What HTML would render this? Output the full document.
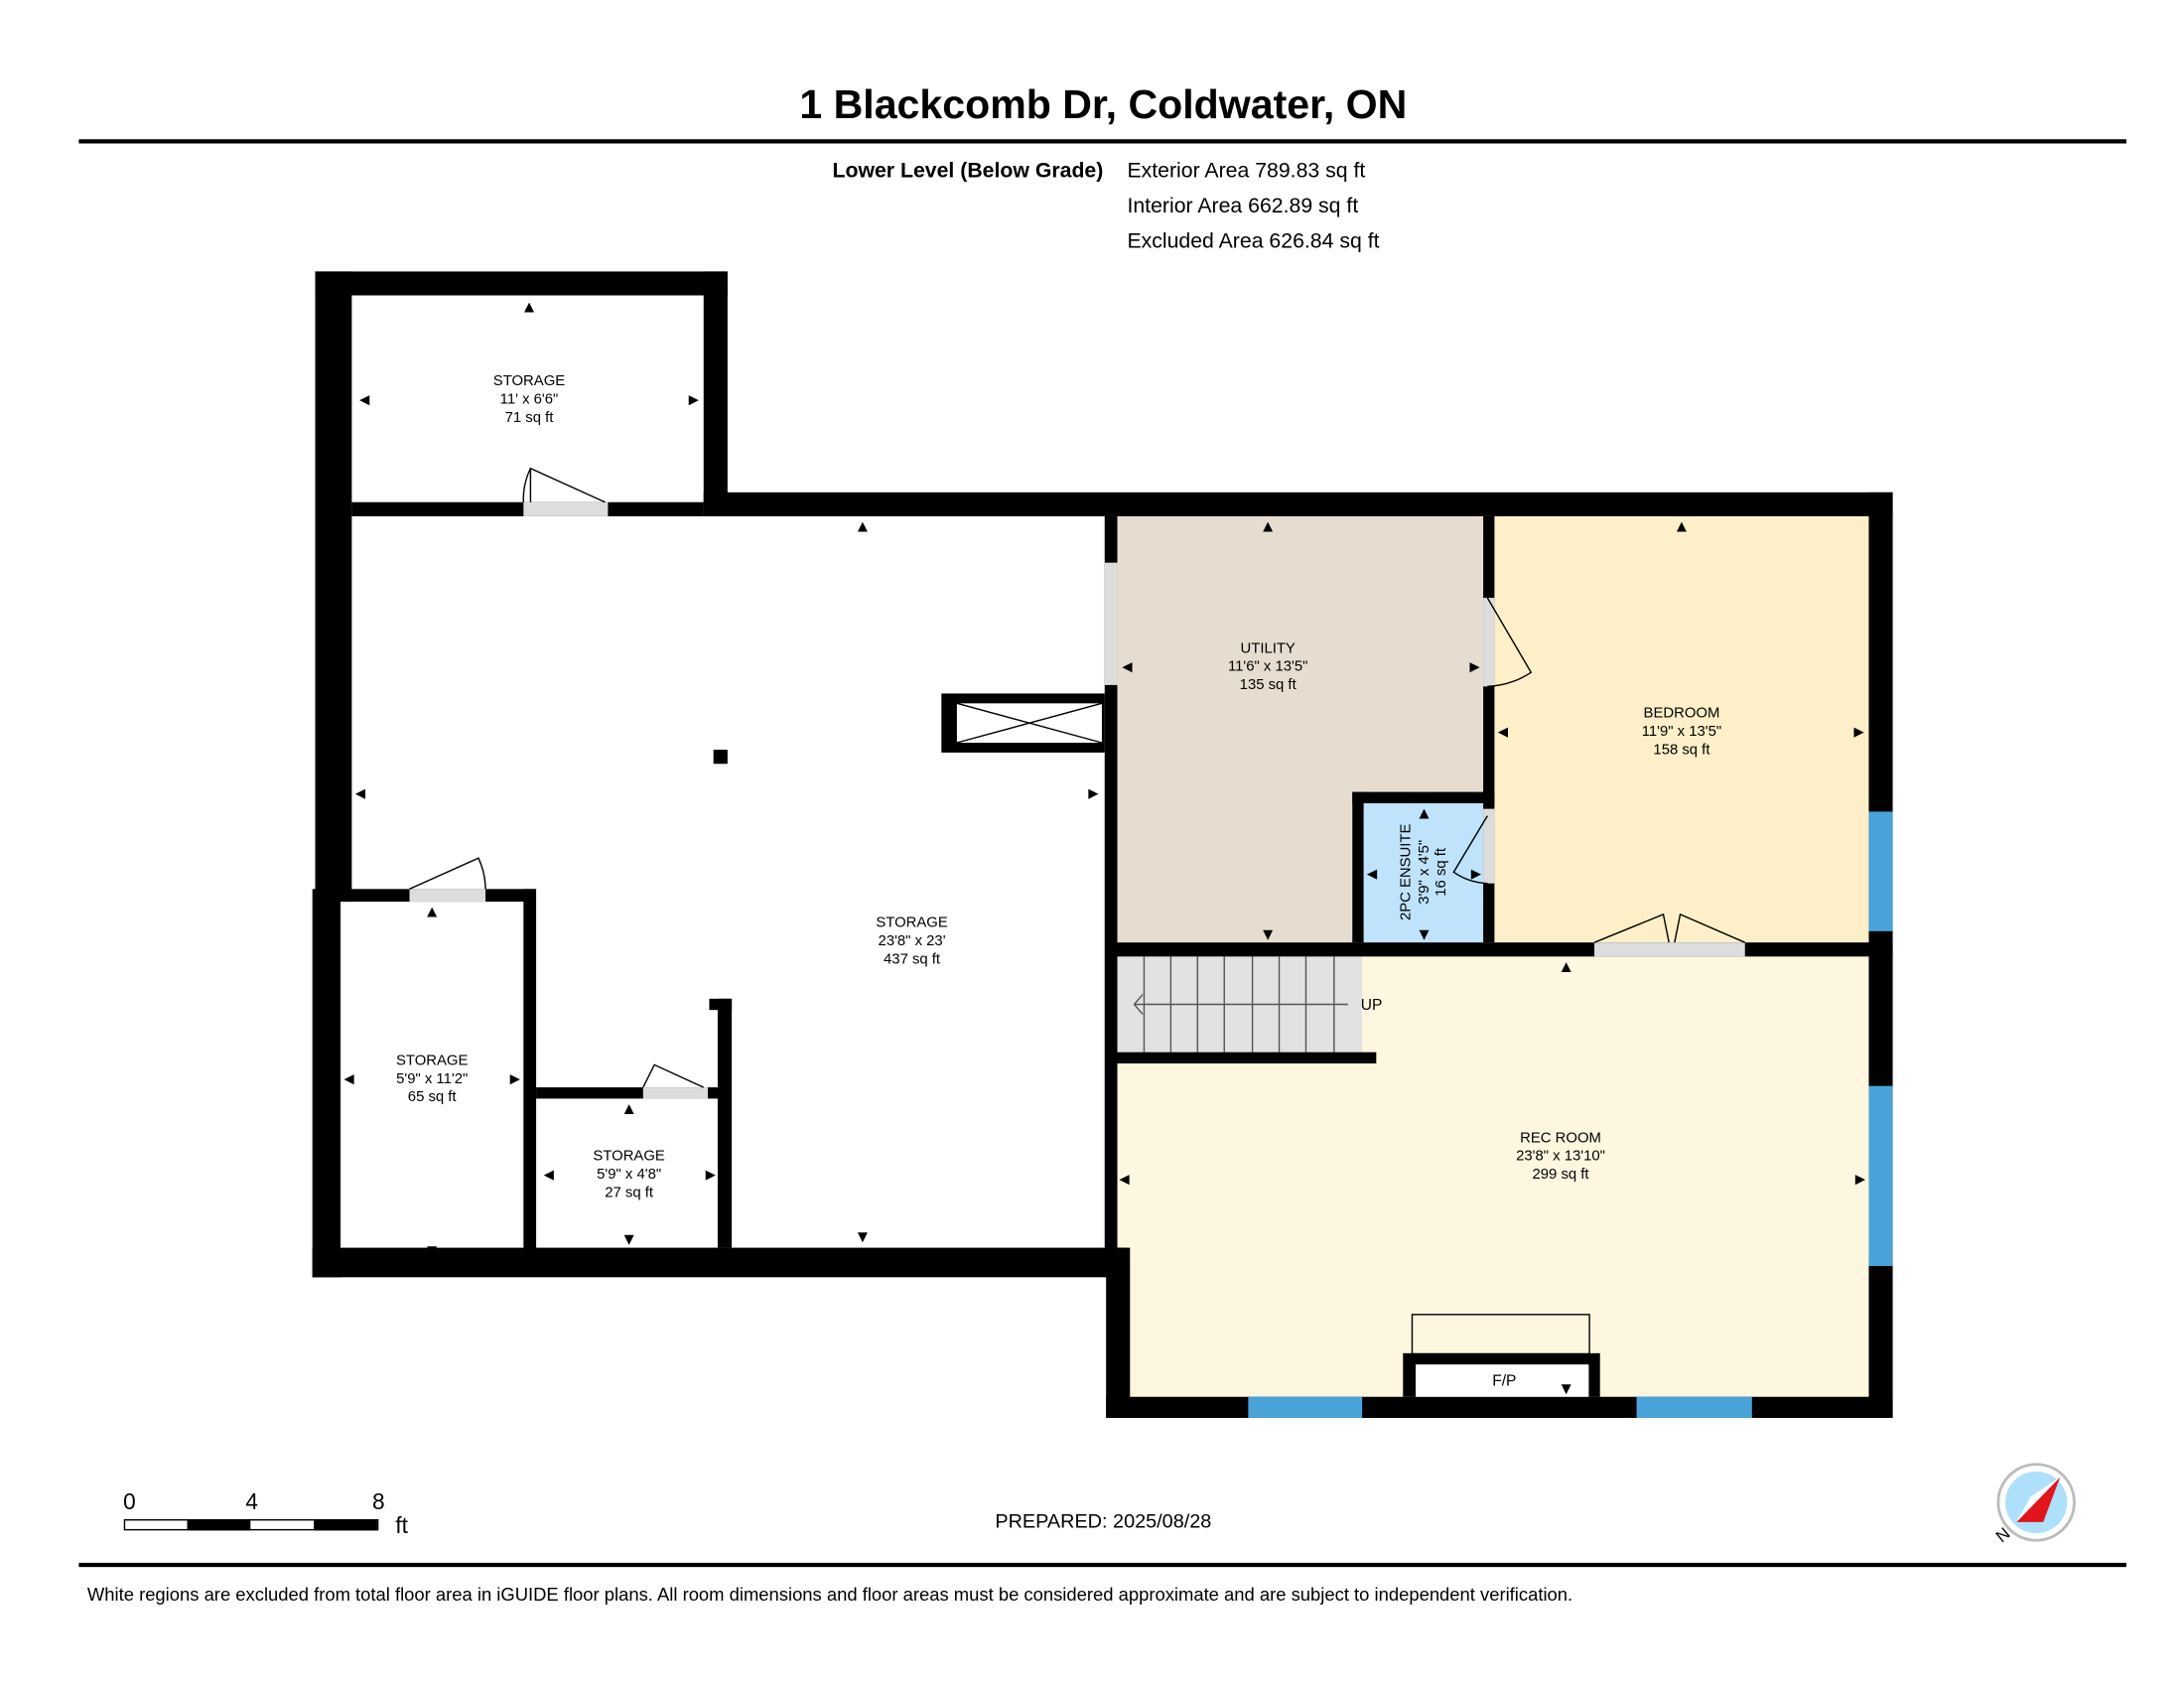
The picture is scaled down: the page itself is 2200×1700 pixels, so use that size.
<!DOCTYPE html>
<html><head><meta charset="utf-8"><style>
html,body{margin:0;padding:0;background:#fff}
svg{display:block}
text{font-family:"Liberation Sans",Arial,sans-serif;fill:#000}
.l{font-size:10.5px;text-anchor:middle}
</style></head><body>
<svg width="2200" height="1700" viewBox="0 0 1552 1200" preserveAspectRatio="none" xmlns="http://www.w3.org/2000/svg">
<rect width="1552" height="1200" fill="#fff"/>
<text x="784" y="84" font-size="29" font-weight="bold" text-anchor="middle">1 Blackcomb Dr, Coldwater, ON</text>
<rect x="56" y="99" width="1455" height="3" fill="#000"/>
<text x="784" y="126" font-size="15" font-weight="bold" text-anchor="end">Lower Level (Below Grade)</text>
<text x="801" y="126" font-size="15">Exterior Area 789.83 sq ft</text>
<text x="801" y="151" font-size="15">Interior Area 662.89 sq ft</text>
<text x="801" y="176" font-size="15">Excluded Area 626.84 sq ft</text>

<rect x="794" y="367" width="260" height="303" fill="#e6ddd0"/>
<rect x="1062" y="367" width="266" height="303" fill="#fdf0c8"/>
<rect x="969" y="571" width="85" height="99" fill="#bfe3fb"/>
<rect x="794" y="680" width="534" height="313" fill="#fef7e0"/>
<rect x="794" y="680" width="174" height="68" fill="#e2e2e2"/>
<g stroke="#555" stroke-width="1">
<line x1="813" y1="680" x2="813" y2="748"/><line x1="832" y1="680" x2="832" y2="748"/><line x1="851" y1="680" x2="851" y2="748"/><line x1="870" y1="680" x2="870" y2="748"/><line x1="890" y1="680" x2="890" y2="748"/><line x1="909" y1="680" x2="909" y2="748"/><line x1="928" y1="680" x2="928" y2="748"/><line x1="948" y1="680" x2="948" y2="748"/>
<line x1="806" y1="714" x2="958" y2="714"/><polyline points="812,707 806,714 812,721" fill="none"/>
</g>
<text x="967" y="718" font-size="11">UP</text>

<g fill="#000">
<rect x="224" y="193" width="293" height="17"/>
<rect x="224" y="193" width="26" height="448"/>
<rect x="500" y="193" width="17" height="174"/>
<rect x="250" y="357" width="250" height="10"/>
<rect x="500" y="350" width="845" height="17"/>
<rect x="1328" y="350" width="17" height="658"/>
<rect x="222" y="632" width="20" height="276"/>
<rect x="222" y="887" width="578" height="21"/>
<rect x="786" y="887" width="17" height="121"/>
<rect x="786" y="993" width="559" height="15"/>
<rect x="785" y="367" width="9" height="520"/>
<rect x="1054" y="367" width="8" height="303"/>
<rect x="961" y="563" width="8" height="107"/>
<rect x="961" y="563" width="101" height="8"/>
<rect x="794" y="670" width="551" height="10"/>
<rect x="794" y="748" width="184" height="8"/>
<rect x="242" y="632" width="138" height="9"/>
<rect x="372" y="632" width="9" height="263"/>
<rect x="381" y="773" width="132" height="8"/>
<rect x="510" y="710" width="10" height="177"/>
<rect x="504" y="710" width="16" height="8"/>
<rect x="669" y="493" width="116" height="42"/>
<rect x="507" y="533" width="10" height="10"/>
<rect x="997" y="962" width="140" height="31"/>
</g>
<rect x="680" y="500" width="103" height="28" fill="#fff"/>
<g stroke="#000" stroke-width="1"><line x1="680" y1="500" x2="783" y2="528"/><line x1="680" y1="528" x2="783" y2="500"/></g>
<rect x="1006" y="970" width="123" height="23" fill="#fff"/>
<rect x="1003.5" y="934.5" width="126" height="28" fill="none" stroke="#000"/>
<text x="1069" y="985" font-size="11" text-anchor="middle">F/P</text>

<g fill="#ddd">
<rect x="372" y="357" width="60" height="10"/>
<rect x="291" y="632" width="54" height="9"/>
<rect x="457" y="773" width="46" height="8"/>
<rect x="785" y="400" width="9" height="87"/>
<rect x="1054" y="425" width="8" height="63"/>
<rect x="1054" y="575" width="8" height="53"/>
<rect x="1133" y="670" width="107" height="10"/>
</g>
<g fill="none" stroke="#000" stroke-width="1">
<path d="M377,357 L377,333 L430,357"/><path d="M377,333 A50,50 0 0 0 372,357" />
<path d="M291,632 L340,610 A54,54 0 0 1 345,632"/>
<path d="M457,773 L465,757 L500,773"/>
<path d="M1057,425 L1088,478 A60,60 0 0 1 1057,488"/>
<path d="M1057,580 L1033,620 A45,45 0 0 0 1057,628"/>
<path d="M1133,670 L1182,650 L1186,670"/><path d="M1240,670 L1194,650 L1190,670"/>
</g>
<g fill="#4aa3d8">
<rect x="1328" y="577" width="17" height="85"/>
<rect x="1328" y="772" width="17" height="128"/>
<rect x="887" y="993" width="81" height="15"/>
<rect x="1163" y="993" width="82" height="15"/>
</g>

<text class="l" x="376" y="274">STORAGE</text><text class="l" x="376" y="287">11' x 6'6"</text><text class="l" x="376" y="300">71 sq ft</text>
<text class="l" x="901" y="464">UTILITY</text><text class="l" x="901" y="477">11'6" x 13'5"</text><text class="l" x="901" y="490">135 sq ft</text>
<text class="l" x="1195" y="510">BEDROOM</text><text class="l" x="1195" y="523">11'9" x 13'5"</text><text class="l" x="1195" y="536">158 sq ft</text>
<text class="l" x="648" y="659">STORAGE</text><text class="l" x="648" y="672">23'8" x 23'</text><text class="l" x="648" y="685">437 sq ft</text>
<text class="l" x="307" y="757">STORAGE</text><text class="l" x="307" y="770">5'9" x 11'2"</text><text class="l" x="307" y="783">65 sq ft</text>
<text class="l" x="447" y="825">STORAGE</text><text class="l" x="447" y="838">5'9" x 4'8"</text><text class="l" x="447" y="851">27 sq ft</text>
<text class="l" x="1109" y="812">REC ROOM</text><text class="l" x="1109" y="825">23'8" x 13'10"</text><text class="l" x="1109" y="838">299 sq ft</text>
<g transform="translate(1012,620) rotate(-90)"><text class="l" x="0" y="-10">2PC ENSUITE</text><text class="l" x="0" y="3">3'9" x 4'5"</text><text class="l" x="0" y="15">16 sq ft</text></g>

<g fill="#000" font-size="12" text-anchor="middle">
<text x="376" y="222">▲</text><text x="259" y="288">◄</text><text x="493" y="288">►</text>
<text x="613" y="378">▲</text><text x="256" y="568">◄</text><text x="777" y="568">►</text><text x="613" y="883">▼</text>
<text x="901" y="378">▲</text><text x="801" y="478">◄</text><text x="1048" y="478">►</text><text x="901" y="668">▼</text>
<text x="1195" y="378">▲</text><text x="1068" y="524">◄</text><text x="1321" y="524">►</text>
<text x="1012" y="582">▲</text><text x="975" y="625">◄</text><text x="1049" y="625">►</text><text x="1012" y="668">▼</text>
<text x="307" y="652">▲</text><text x="248" y="771">◄</text><text x="366" y="771">►</text><text x="307" y="893">▼</text>
<text x="447" y="792">▲</text><text x="390" y="839">◄</text><text x="505" y="839">►</text><text x="447" y="885">▼</text>
<text x="1113" y="691">▲</text><text x="799" y="842">◄</text><text x="1322" y="842">►</text><text x="1113" y="991">▼</text>
</g>

<text x="92" y="1073" font-size="16" text-anchor="middle">0</text>
<text x="179" y="1073" font-size="16" text-anchor="middle">4</text>
<text x="269" y="1073" font-size="16" text-anchor="middle">8</text>
<text x="281" y="1090" font-size="16">ft</text>
<rect x="88.5" y="1080.5" width="180" height="7" fill="#fff" stroke="#000"/>
<rect x="133" y="1080" width="45" height="8" fill="#000"/><rect x="223" y="1080" width="45" height="8" fill="#000"/>
<text x="784" y="1086" font-size="14" text-anchor="middle">PREPARED: 2025/08/28</text>
<circle cx="1447" cy="1068" r="27" fill="#fff" stroke="#bbb" stroke-width="2"/>
<circle cx="1447" cy="1068" r="22" fill="#aee0fb"/>
<polygon points="1433,1082 1464,1050 1452,1082" fill="#e2141c"/>
<polygon points="1433,1082 1464,1050 1443,1064" fill="#fff"/>
<text x="1420" y="1098" font-size="12" transform="rotate(-40 1420 1094)">N</text>

<rect x="56" y="1111" width="1455" height="3" fill="#000"/>
<text x="62" y="1138" font-size="13">White regions are excluded from total floor area in iGUIDE floor plans. All room dimensions and floor areas must be considered approximate and are subject to independent verification.</text>
</svg>
</body></html>
